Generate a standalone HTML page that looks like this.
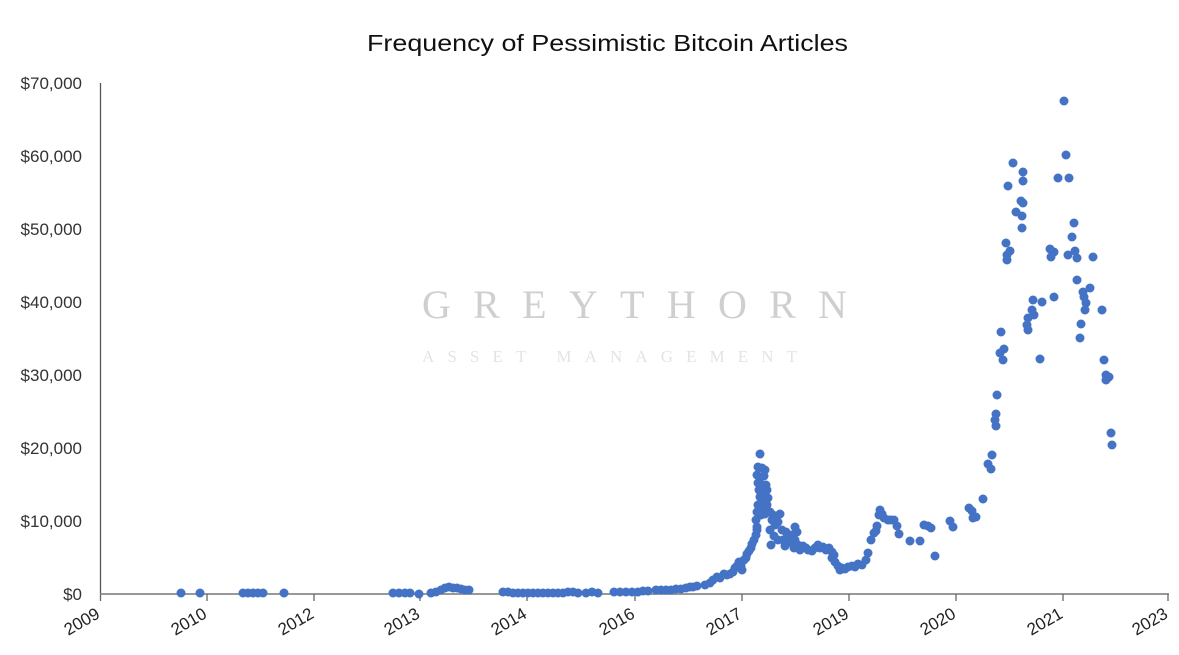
<!DOCTYPE html>
<html><head><meta charset="utf-8"><style>
html,body{margin:0;padding:0;background:#fff;}
svg{display:block;}
text{font-family:"Liberation Sans",sans-serif;}
text.serif{font-family:"Liberation Serif","DejaVu Serif",serif;}
circle{r:4.5px;}
</style></head><body>
<svg width="1179" height="655" viewBox="0 0 1179 655" xmlns="http://www.w3.org/2000/svg">
<text x="367" y="51" font-size="23" fill="#111" textLength="481" lengthAdjust="spacingAndGlyphs">Frequency of Pessimistic Bitcoin Articles</text>
<text class="serif" x="422" y="318" font-size="40" fill="#cfcfcf" textLength="425" lengthAdjust="spacing">GREYTHORN</text>
<text class="serif" x="422" y="362" font-size="17" fill="#e4e4e4" textLength="375" lengthAdjust="spacing">ASSET MANAGEMENT</text>
<g font-size="17" fill="#333" text-anchor="end">
<text x="82" y="89">$70,000</text>
<text x="82" y="162">$60,000</text>
<text x="82" y="235">$50,000</text>
<text x="82" y="308">$40,000</text>
<text x="82" y="381">$30,000</text>
<text x="82" y="454">$20,000</text>
<text x="82" y="527">$10,000</text>
<text x="82" y="600">$0</text>
</g>
<line x1="100.5" y1="83" x2="100.5" y2="594" stroke="#555" stroke-width="1.3"/>
<line x1="100" y1="594" x2="1169" y2="594" stroke="#8a8a8a" stroke-width="1.8"/>
<g stroke="#666" stroke-width="1.3">
<line x1="100.5" y1="594" x2="100.5" y2="601"/><line x1="207" y1="594" x2="207" y2="601"/><line x1="314" y1="594" x2="314" y2="601"/><line x1="420" y1="594" x2="420" y2="601"/><line x1="527" y1="594" x2="527" y2="601"/><line x1="635" y1="594" x2="635" y2="601"/><line x1="742" y1="594" x2="742" y2="601"/><line x1="849" y1="594" x2="849" y2="601"/><line x1="956" y1="594" x2="956" y2="601"/><line x1="1063" y1="594" x2="1063" y2="601"/><line x1="1168" y1="594" x2="1168" y2="601"/>
</g>
<g font-size="17" fill="#222" text-anchor="end">
<text transform="translate(101,617) rotate(-30)">2009</text>
<text transform="translate(208,617) rotate(-30)">2010</text>
<text transform="translate(315,617) rotate(-30)">2012</text>
<text transform="translate(421,617) rotate(-30)">2013</text>
<text transform="translate(528,617) rotate(-30)">2014</text>
<text transform="translate(636,617) rotate(-30)">2016</text>
<text transform="translate(743,617) rotate(-30)">2017</text>
<text transform="translate(850,617) rotate(-30)">2019</text>
<text transform="translate(957,617) rotate(-30)">2020</text>
<text transform="translate(1064,617) rotate(-30)">2021</text>
<text transform="translate(1169,617) rotate(-30)">2023</text>
</g>
<g fill="#4472C4">
<circle cx="181" cy="593" r="4.5"/><circle cx="200" cy="593" r="4.5"/><circle cx="243" cy="593" r="4.5"/><circle cx="248" cy="593" r="4.5"/><circle cx="253" cy="593" r="4.5"/><circle cx="258" cy="593" r="4.5"/><circle cx="263" cy="593" r="4.5"/><circle cx="284" cy="593" r="4.5"/>
<circle cx="393" cy="593" r="4.5"/><circle cx="399" cy="593" r="4.5"/><circle cx="405" cy="593" r="4.5"/><circle cx="410" cy="593" r="4.5"/><circle cx="419" cy="594" r="4.5"/><circle cx="431" cy="593" r="4.5"/><circle cx="436" cy="592" r="4.5"/><circle cx="441" cy="590" r="4.5"/><circle cx="445" cy="588" r="4.5"/><circle cx="449" cy="587" r="4.5"/><circle cx="453" cy="588" r="4.5"/><circle cx="457" cy="588" r="4.5"/><circle cx="461" cy="589" r="4.5"/><circle cx="465" cy="590" r="4.5"/><circle cx="469" cy="590" r="4.5"/>
<circle cx="503" cy="592" r="4.5"/><circle cx="508" cy="592" r="4.5"/><circle cx="513" cy="593" r="4.5"/><circle cx="518" cy="593" r="4.5"/><circle cx="523" cy="593" r="4.5"/><circle cx="528" cy="593" r="4.5"/><circle cx="533" cy="593" r="4.5"/><circle cx="538" cy="593" r="4.5"/><circle cx="543" cy="593" r="4.5"/><circle cx="548" cy="593" r="4.5"/><circle cx="553" cy="593" r="4.5"/><circle cx="558" cy="593" r="4.5"/><circle cx="563" cy="593" r="4.5"/><circle cx="568" cy="592" r="4.5"/><circle cx="573" cy="592" r="4.5"/><circle cx="578" cy="593" r="4.5"/>
<circle cx="586" cy="593" r="4.5"/><circle cx="592" cy="592" r="4.5"/><circle cx="598" cy="593" r="4.5"/><circle cx="614" cy="592" r="4.5"/><circle cx="620" cy="592" r="4.5"/><circle cx="626" cy="592" r="4.5"/><circle cx="632" cy="592" r="4.5"/><circle cx="638" cy="592" r="4.5"/><circle cx="643" cy="591" r="4.5"/><circle cx="648" cy="591" r="4.5"/><circle cx="656" cy="590" r="4.5"/><circle cx="661" cy="590" r="4.5"/><circle cx="666" cy="590" r="4.5"/><circle cx="671" cy="590" r="4.5"/><circle cx="676" cy="589" r="4.5"/><circle cx="681" cy="589" r="4.5"/><circle cx="686" cy="588" r="4.5"/><circle cx="690" cy="587" r="4.5"/>
<circle cx="693" cy="587" r="4.5"/><circle cx="697" cy="586" r="4.5"/><circle cx="705" cy="585" r="4.5"/><circle cx="710" cy="583" r="4.5"/><circle cx="713" cy="580" r="4.5"/><circle cx="717" cy="577" r="4.5"/><circle cx="720" cy="578" r="4.5"/><circle cx="724" cy="574" r="4.5"/><circle cx="727" cy="575" r="4.5"/><circle cx="730" cy="574" r="4.5"/><circle cx="733" cy="572" r="4.5"/><circle cx="735" cy="568" r="4.5"/><circle cx="737" cy="566" r="4.5"/><circle cx="739" cy="562" r="4.5"/><circle cx="741" cy="566" r="4.5"/><circle cx="742" cy="570" r="4.5"/><circle cx="744" cy="560" r="4.5"/><circle cx="746" cy="558" r="4.5"/><circle cx="747" cy="554" r="4.5"/><circle cx="749" cy="551" r="4.5"/><circle cx="751" cy="548" r="4.5"/><circle cx="752" cy="544" r="4.5"/><circle cx="754" cy="540" r="4.5"/><circle cx="756" cy="535" r="4.5"/><circle cx="757" cy="530" r="4.5"/>
<circle cx="760" cy="454" r="4.5"/><circle cx="758" cy="467" r="4.5"/><circle cx="762" cy="468" r="4.5"/><circle cx="765" cy="470" r="4.5"/><circle cx="757" cy="475" r="4.5"/><circle cx="760" cy="478" r="4.5"/><circle cx="764" cy="476" r="4.5"/><circle cx="758" cy="483" r="4.5"/><circle cx="762" cy="485" r="4.5"/><circle cx="766" cy="485" r="4.5"/><circle cx="759" cy="490" r="4.5"/><circle cx="763" cy="492" r="4.5"/><circle cx="767" cy="490" r="4.5"/><circle cx="760" cy="497" r="4.5"/><circle cx="764" cy="500" r="4.5"/><circle cx="768" cy="498" r="4.5"/><circle cx="758" cy="505" r="4.5"/><circle cx="763" cy="507" r="4.5"/><circle cx="767" cy="505" r="4.5"/><circle cx="757" cy="512" r="4.5"/><circle cx="761" cy="515" r="4.5"/><circle cx="765" cy="514" r="4.5"/><circle cx="756" cy="520" r="4.5"/><circle cx="757" cy="527" r="4.5"/>
<circle cx="770" cy="512" r="4.5"/><circle cx="773" cy="515" r="4.5"/><circle cx="776" cy="516" r="4.5"/><circle cx="780" cy="514" r="4.5"/><circle cx="772" cy="520" r="4.5"/><circle cx="775" cy="525" r="4.5"/><circle cx="778" cy="522" r="4.5"/><circle cx="770" cy="530" r="4.5"/><circle cx="774" cy="536" r="4.5"/><circle cx="778" cy="540" r="4.5"/><circle cx="771" cy="545" r="4.5"/><circle cx="782" cy="530" r="4.5"/><circle cx="786" cy="532" r="4.5"/><circle cx="788" cy="537" r="4.5"/><circle cx="783" cy="540" r="4.5"/><circle cx="790" cy="542" r="4.5"/><circle cx="792" cy="535" r="4.5"/><circle cx="795" cy="527" r="4.5"/><circle cx="797" cy="532" r="4.5"/><circle cx="795" cy="540" r="4.5"/><circle cx="798" cy="545" r="4.5"/><circle cx="785" cy="546" r="4.5"/><circle cx="800" cy="550" r="4.5"/><circle cx="794" cy="548" r="4.5"/><circle cx="803" cy="546" r="4.5"/><circle cx="806" cy="548" r="4.5"/><circle cx="808" cy="550" r="4.5"/><circle cx="812" cy="551" r="4.5"/><circle cx="815" cy="548" r="4.5"/><circle cx="818" cy="545" r="4.5"/><circle cx="820" cy="548" r="4.5"/><circle cx="823" cy="547" r="4.5"/><circle cx="826" cy="550" r="4.5"/><circle cx="829" cy="548" r="4.5"/><circle cx="832" cy="552" r="4.5"/><circle cx="834" cy="555" r="4.5"/><circle cx="832" cy="558" r="4.5"/><circle cx="835" cy="562" r="4.5"/><circle cx="838" cy="566" r="4.5"/><circle cx="840" cy="570" r="4.5"/><circle cx="842" cy="568" r="4.5"/><circle cx="845" cy="569" r="4.5"/><circle cx="848" cy="567" r="4.5"/><circle cx="852" cy="566" r="4.5"/><circle cx="855" cy="567" r="4.5"/><circle cx="858" cy="564" r="4.5"/><circle cx="862" cy="565" r="4.5"/><circle cx="866" cy="560" r="4.5"/><circle cx="868" cy="553" r="4.5"/><circle cx="871" cy="540" r="4.5"/><circle cx="874" cy="533" r="4.5"/><circle cx="876" cy="531" r="4.5"/><circle cx="877" cy="526" r="4.5"/><circle cx="880" cy="510" r="4.5"/><circle cx="879" cy="515" r="4.5"/><circle cx="882" cy="514" r="4.5"/><circle cx="884" cy="518" r="4.5"/><circle cx="888" cy="520" r="4.5"/><circle cx="891" cy="520" r="4.5"/><circle cx="894" cy="520" r="4.5"/><circle cx="897" cy="526" r="4.5"/><circle cx="899" cy="534" r="4.5"/><circle cx="910" cy="541" r="4.5"/><circle cx="920" cy="541" r="4.5"/><circle cx="924" cy="525" r="4.5"/><circle cx="928" cy="526" r="4.5"/><circle cx="931" cy="528" r="4.5"/><circle cx="935" cy="556" r="4.5"/><circle cx="950" cy="521" r="4.5"/><circle cx="953" cy="527" r="4.5"/><circle cx="969" cy="508" r="4.5"/><circle cx="972" cy="511" r="4.5"/><circle cx="973" cy="518" r="4.5"/><circle cx="976" cy="517" r="4.5"/><circle cx="983" cy="499" r="4.5"/><circle cx="988" cy="464" r="4.5"/><circle cx="991" cy="469" r="4.5"/><circle cx="992" cy="455" r="4.5"/><circle cx="995" cy="420" r="4.5"/><circle cx="996" cy="426" r="4.5"/><circle cx="996" cy="414" r="4.5"/><circle cx="997" cy="395" r="4.5"/><circle cx="1000" cy="353" r="4.5"/><circle cx="1001" cy="332" r="4.5"/><circle cx="1003" cy="360" r="4.5"/><circle cx="1004" cy="349" r="4.5"/>
<circle cx="1064" cy="101" r="4.5"/><circle cx="1066" cy="155" r="4.5"/><circle cx="1013" cy="163" r="4.5"/><circle cx="1023" cy="172" r="4.5"/><circle cx="1023" cy="181" r="4.5"/><circle cx="1008" cy="186" r="4.5"/><circle cx="1058" cy="178" r="4.5"/><circle cx="1069" cy="178" r="4.5"/><circle cx="1021" cy="201" r="4.5"/><circle cx="1023" cy="203" r="4.5"/><circle cx="1016" cy="212" r="4.5"/><circle cx="1022" cy="216" r="4.5"/><circle cx="1022" cy="228" r="4.5"/><circle cx="1074" cy="223" r="4.5"/><circle cx="1072" cy="237" r="4.5"/><circle cx="1006" cy="243" r="4.5"/><circle cx="1010" cy="251" r="4.5"/><circle cx="1007" cy="255" r="4.5"/><circle cx="1007" cy="260" r="4.5"/><circle cx="1050" cy="249" r="4.5"/><circle cx="1054" cy="252" r="4.5"/><circle cx="1051" cy="257" r="4.5"/><circle cx="1075" cy="251" r="4.5"/><circle cx="1077" cy="258" r="4.5"/><circle cx="1068" cy="255" r="4.5"/><circle cx="1093" cy="257" r="4.5"/><circle cx="1077" cy="280" r="4.5"/><circle cx="1083" cy="292" r="4.5"/><circle cx="1090" cy="288" r="4.5"/><circle cx="1084" cy="297" r="4.5"/><circle cx="1086" cy="303" r="4.5"/><circle cx="1085" cy="310" r="4.5"/><circle cx="1102" cy="310" r="4.5"/><circle cx="1033" cy="300" r="4.5"/><circle cx="1032" cy="310" r="4.5"/><circle cx="1034" cy="315" r="4.5"/><circle cx="1042" cy="302" r="4.5"/><circle cx="1054" cy="297" r="4.5"/><circle cx="1028" cy="318" r="4.5"/><circle cx="1027" cy="325" r="4.5"/><circle cx="1028" cy="330" r="4.5"/><circle cx="1081" cy="324" r="4.5"/><circle cx="1080" cy="338" r="4.5"/><circle cx="1040" cy="359" r="4.5"/><circle cx="1104" cy="360" r="4.5"/><circle cx="1106" cy="375" r="4.5"/><circle cx="1109" cy="377" r="4.5"/><circle cx="1106" cy="380" r="4.5"/><circle cx="1111" cy="433" r="4.5"/><circle cx="1112" cy="445" r="4.5"/>
</g>
</svg>
</body></html>
